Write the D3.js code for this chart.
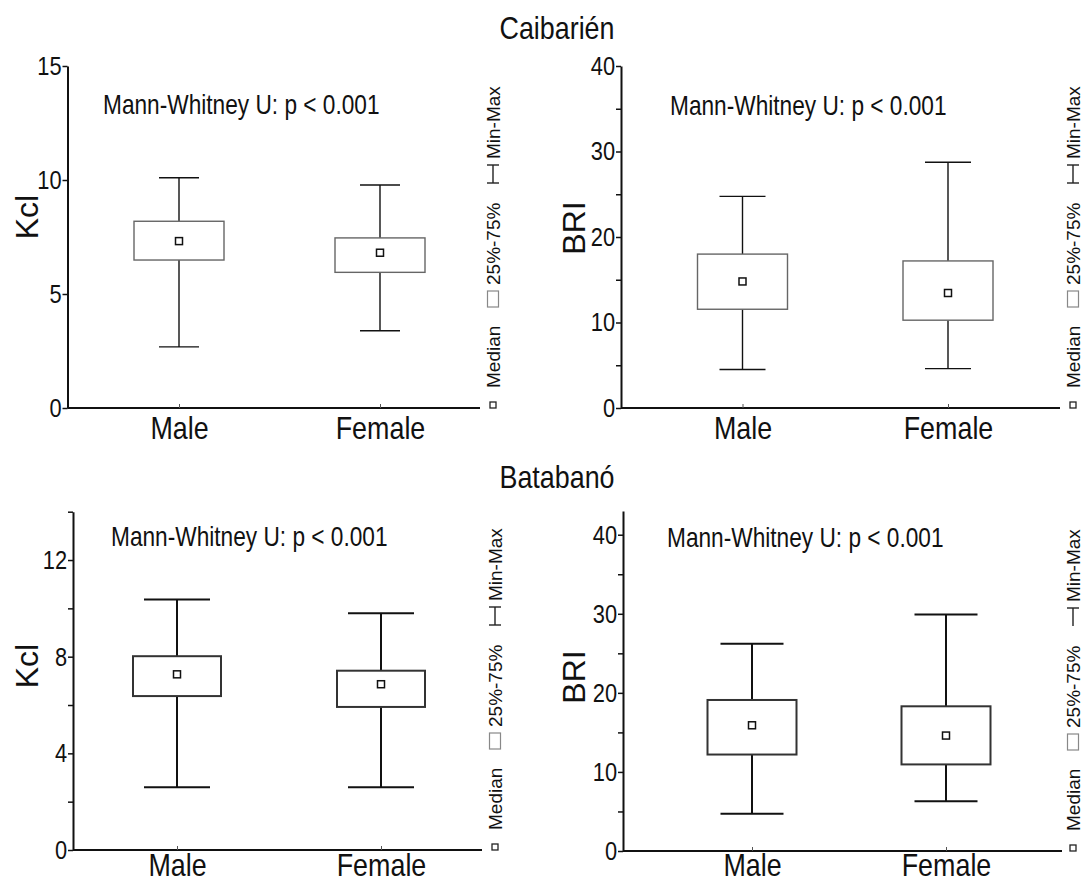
<!DOCTYPE html>
<html>
<head>
<meta charset="utf-8">
<script src="https://cdn.jsdelivr.net/npm/d3@7"></script>
<style>
  body { margin: 0; background: #fff; }
  svg { display: block; }
</style>
</head>
<body>
<svg id="chart" width="1082" height="881"></svg>
<script>
const sexes = ["Male", "Female"];
// five-number summaries: [min, q1, median, q3, max]
const caibarienKcl = [[2.68, 6.49, 7.32, 8.19, 10.1], [3.39, 5.95, 6.81, 7.46, 9.78]];
const caibarienBri = [[4.5, 11.55, 14.8, 18.0, 24.75], [4.6, 10.27, 13.45, 17.2, 28.75]];
const batabanoKcl = [[2.6, 6.37, 7.27, 8.02, 10.37], [2.6, 5.92, 6.86, 7.42, 9.8]];
const batabanoBri = [[4.7, 12.2, 15.9, 19.1, 26.2], [6.3, 10.95, 14.6, 18.3, 29.9]];

const kclTicksTop = [0, 5, 10, 15];
const kclTicksBottom = [0, 2, 4, 6, 8, 10, 12, 14];
const kclLabelsBottom = [0, 4, 8, 12];
const briTicks = [0, 5, 10, 15, 20, 25, 30, 35, 40];
const briLabels = [0, 10, 20, 30, 40];

const siteTitles = ["Caibarién", "Batabanó"];
const testNote = "Mann-Whitney U: p < 0.001";
const legendLabels = ["Median", "25%-75%", "Min-Max"];

const FONT = "'Liberation Sans', Arial, sans-serif";
const SQ = 0.84; // the source picture is squeezed horizontally

const svg = d3.select("#chart");

const panels = [
  { data: caibarienKcl, yTitle: "Kcl", max: 15, ticks: kclTicksTop, labels: kclTicksTop,
    left: 67.5, right: 480, top: 66, bottom: 408, cx: [179, 380], boxW: 90, capW: 40, lw: 1.4,
    note: [103, 114], titlePos: [26, 217], legX: 493, fullCap: true, labelY: 31 },
  { data: caibarienBri, yTitle: "BRI", max: 40, ticks: briTicks, labels: briLabels,
    left: 621, right: 1060, top: 66, bottom: 408, cx: [742.5, 948], boxW: 90, capW: 46, lw: 1.4,
    note: [670, 115], titlePos: [573, 228], legX: 1073, fullCap: true, labelY: 31 },
  { data: batabanoKcl, yTitle: "Kcl", max: 14, ticks: kclTicksBottom, labels: kclLabelsBottom,
    left: 73, right: 482, top: 511.7, bottom: 850, cx: [177, 381], boxW: 88, capW: 66, lw: 2,
    note: [111, 546], titlePos: [26, 666], legX: 495, fullCap: true, labelY: 26 },
  { data: batabanoBri, yTitle: "BRI", max: 43, ticks: briTicks, labels: briLabels,
    left: 623, right: 1062, top: 511, bottom: 851, cx: [752, 946], boxW: 89, capW: 63, lw: 2,
    note: [667, 547], titlePos: [573, 677], legX: 1073, fullCap: false, labelY: 25 }
];

// site titles
[[557, 39], [557, 488]].forEach((pos, i) => {
  svg.append("text")
    .attr("transform", `translate(${pos[0]},${pos[1]}) scale(${SQ},1)`)
    .attr("text-anchor", "middle")
    .attr("font-family", FONT)
    .attr("font-size", 32)
    .attr("fill", "#111")
    .text(siteTitles[i]);
});

panels.forEach((p) => {
  const y = d3.scaleLinear().domain([0, p.max]).range([p.bottom, p.top]);
  const x = d3.scalePoint().domain(sexes).range(p.cx);
  const g = svg.append("g");
  const boxStroke = p.lw > 1.5 ? "#333" : "#666";

  // y axis
  const ya = g.append("g")
    .attr("transform", `translate(${p.left},0)`)
    .call(d3.axisLeft(y)
      .tickValues(p.ticks)
      .tickFormat((d) => (p.labels.includes(d) ? d : ""))
      .tickSize(5)
      .tickSizeOuter(0)
      .tickPadding(2));
  ya.select(".domain").attr("stroke", "#111").attr("stroke-width", 2);
  ya.selectAll(".tick line").attr("stroke", "#111").attr("stroke-width", 1.5);
  ya.selectAll(".tick text")
    .attr("font-family", FONT)
    .attr("font-size", 26)
    .attr("fill", "#111")
    .attr("transform", `scale(${SQ},1)`);

  // x axis
  g.append("line")
    .attr("x1", p.left).attr("x2", p.right)
    .attr("y1", y(0)).attr("y2", y(0))
    .attr("stroke", "#111").attr("stroke-width", 2);
  const xa = g.append("g")
    .attr("transform", `translate(0,${y(0)})`)
    .call(d3.axisBottom(x).tickSize(-4).tickPadding(0));
  xa.select(".domain").remove();
  xa.selectAll(".tick line").attr("stroke", "#555").attr("stroke-width", 1);
  xa.selectAll(".tick text")
    .attr("y", p.labelY).attr("dy", 0)
    .attr("font-family", FONT)
    .attr("font-size", 32)
    .attr("fill", "#111")
    .attr("transform", `scale(${SQ},1)`);

  // y title
  g.append("text")
    .attr("transform", `translate(${p.titlePos[0] + 11.5},${p.titlePos[1]}) rotate(-90)`)
    .attr("text-anchor", "middle")
    .attr("font-family", FONT)
    .attr("font-size", 32)
    .attr("fill", "#111")
    .text(p.yTitle);

  // test note
  g.append("text")
    .attr("transform", `translate(${p.note[0]},${p.note[1]}) scale(${SQ},1)`)
    .attr("font-family", FONT)
    .attr("font-size", 27)
    .attr("fill", "#111")
    .text(testNote);

  // boxes
  const grp = g.selectAll("g.sex")
    .data(p.data)
    .join("g")
    .attr("class", "sex")
    .attr("transform", (d, i) => `translate(${x(sexes[i])},0)`);

  grp.append("line")
    .attr("y1", (d) => y(d[0])).attr("y2", (d) => y(d[1]))
    .attr("stroke", "#111").attr("stroke-width", p.lw);
  grp.append("line")
    .attr("y1", (d) => y(d[3])).attr("y2", (d) => y(d[4]))
    .attr("stroke", "#111").attr("stroke-width", p.lw);
  grp.append("line")
    .attr("x1", -p.capW / 2).attr("x2", p.capW / 2)
    .attr("y1", (d) => y(d[0])).attr("y2", (d) => y(d[0]))
    .attr("stroke", "#111").attr("stroke-width", p.lw);
  grp.append("line")
    .attr("x1", -p.capW / 2).attr("x2", p.capW / 2)
    .attr("y1", (d) => y(d[4])).attr("y2", (d) => y(d[4]))
    .attr("stroke", "#111").attr("stroke-width", p.lw);
  grp.append("rect")
    .attr("x", -p.boxW / 2)
    .attr("width", p.boxW)
    .attr("y", (d) => y(d[3]))
    .attr("height", (d) => y(d[1]) - y(d[3]))
    .attr("fill", "#fff")
    .attr("stroke", boxStroke)
    .attr("stroke-width", p.lw);
  grp.append("rect")
    .attr("x", -3.5).attr("width", 7)
    .attr("y", (d) => y(d[2]) - 3.5).attr("height", 7)
    .attr("fill", "#fff")
    .attr("stroke", "#111")
    .attr("stroke-width", 1.5);

  // legend, rotated along the right edge
  const lx = p.legX, ly = p.bottom;
  g.append("rect")
    .attr("x", lx - 3).attr("y", ly - 6)
    .attr("width", 6).attr("height", 6)
    .attr("fill", "#fff").attr("stroke", "#222").attr("stroke-width", 1.3);
  g.append("rect")
    .attr("x", lx - 5.5).attr("y", ly - 117)
    .attr("width", 11).attr("height", 16)
    .attr("fill", "#fff").attr("stroke", "#888").attr("stroke-width", 1.2);
  g.append("line")
    .attr("x1", lx).attr("x2", lx)
    .attr("y1", ly - 243).attr("y2", ly - 225)
    .attr("stroke", "#222").attr("stroke-width", 1.4);
  g.append("line")
    .attr("x1", lx - 6).attr("x2", lx + 6)
    .attr("y1", ly - 243).attr("y2", ly - 243)
    .attr("stroke", "#222").attr("stroke-width", 1.4);
  if (p.fullCap) {
    g.append("line")
      .attr("x1", lx - 6).attr("x2", lx + 6)
      .attr("y1", ly - 225).attr("y2", ly - 225)
      .attr("stroke", "#222").attr("stroke-width", 1.4);
  }
  [20, 123, 249].forEach((off, i) => {
    g.append("text")
      .attr("transform", `translate(${lx + 6.5},${ly - off}) scale(0.92,1) rotate(-90)`)
      .attr("font-family", FONT)
      .attr("font-size", 19)
      .attr("fill", "#111")
      .text(legendLabels[i]);
  });
});
</script>
</body>
</html>
